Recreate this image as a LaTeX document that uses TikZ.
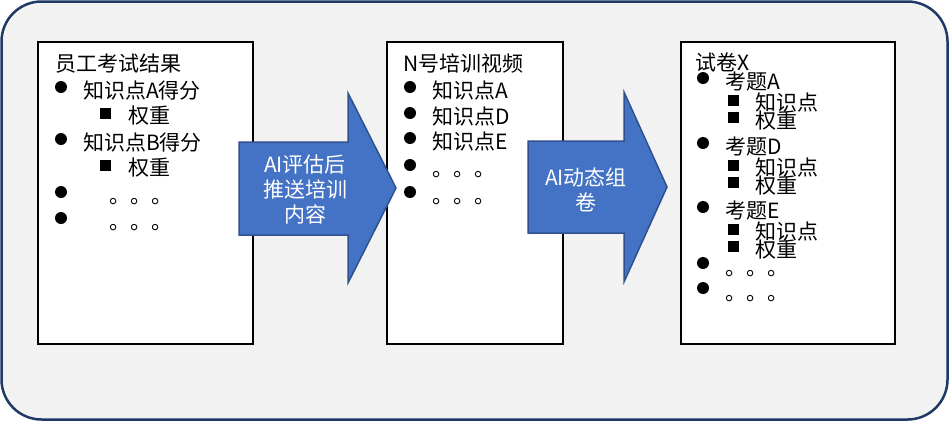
\documentclass[tikz,border=0pt]{standalone}
\usepackage{fontspec}
\setmainfont{Noto Sans CJK SC}
\definecolor{frameblue}{HTML}{1F3864}
\definecolor{bggray}{HTML}{F2F2F2}
\definecolor{flowfill}{HTML}{4472C4}
\definecolor{flowedge}{HTML}{2F528F}
\tikzset{
  panel/.style={draw=black, fill=white, line width=1.3pt, inner sep=0pt},
  flow/.style={fill=flowfill, draw=flowedge, line width=1.5pt, line join=miter},
  item/.style={anchor=west, inner sep=0pt, text height=0.75em, text depth=0.05em, yshift=-5pt, font=\fontsize{21}{25}\selectfont},
  flowtext/.style={text=white, align=center, inner sep=0pt, font=\fontsize{21}{25}\selectfont},
  bigdot/.style={circle, fill=black, inner sep=0pt, minimum size=12pt},
  bigsq/.style={rectangle, fill=black, inner sep=0pt, minimum size=11pt},
}
\begin{document}
\begin{tikzpicture}[x=1pt,y=-1pt]
\useasboundingbox (0,0) rectangle (949,421);
\draw[frameblue, fill=bggray, line width=2.5pt, rounded corners=40pt] (1.5,1.5) rectangle (947.5,419.5);

\node[panel, minimum width=215pt, minimum height=302pt] (exam) at (145.5,193) {};
\node[panel, minimum width=176pt, minimum height=302pt] (video) at (475,193) {};
\node[panel, minimum width=214pt, minimum height=302pt] (paper) at (788,193) {};

\node[item] (examtitle) at (55,63) {员工考试结果};
\node[bigdot] (ed1) at (61,87) {};
\node[item] (ea) at (83,90) {知识点A得分};
\node[bigsq] (es1) at (105,113) {};
\node[item] (eaw) at (128,115) {权重};
\node[bigdot] (ed2) at (61,139) {};
\node[item] (eb) at (83,142) {知识点B得分};
\node[bigsq] (es2) at (105,165) {};
\node[item] (ebw) at (128,167) {权重};
\foreach \i/\y in {3/192,4/218} {
  \node[bigdot] (ed\i) at (61,\y) {};
  \node[item] (emore\i) at (109.5,\y+3) {。。。};
}

\node[item] (videotitle) at (403,63) {N号培训视频};
\foreach \i/\y/\t in {1/87/知识点A,2/113/知识点D,3/138/知识点E} {
  \node[bigdot] (vd\i) at (410,\y) {};
  \node[item] (vk\i) at (432,\y+3) {\t};
}
\foreach \i/\y in {4/165,5/192} {
  \node[bigdot] (vd\i) at (410,\y) {};
  \node[item] (vmore\i) at (432.5,\y+3) {。。。};
}

\node[item] (papertitle) at (695,62) {试卷X};
\foreach \i/\y/\t in {1/78/A,2/143/D,3/207/E} {
  \node[bigdot] (pd\i) at (703,\y) {};
  \node[item] (pq\i) at (725,\y+3) {考题\t};
  \node[bigsq] (pk\i) at (733,\y+22) {};
  \node[item] (pkt\i) at (755,\y+24) {知识点};
  \node[bigsq] (pw\i) at (733,\y+39) {};
  \node[item] (pwt\i) at (755,\y+42) {权重};
}
\foreach \i/\y in {4/263,5/288} {
  \node[bigdot] (pd\i) at (703,\y) {};
  \node[item] (pmore\i) at (725.5,\y+4) {。。。};
}

\draw[flow] (239,142) -- (348,142) -- (348,93) -- (396,188) -- (348,283) -- (348,235) -- (239,235) -- cycle;
\node[flowtext] (push) at (305,190) {AI评估后\\推送培训\\内容};
\draw[flow] (528,141) -- (624,141) -- (624,92) -- (667,187) -- (624,282) -- (624,233) -- (528,233) -- cycle;
\node[flowtext] (compose) at (586,189.5) {AI动态组\\卷};
\end{tikzpicture}
\end{document}
